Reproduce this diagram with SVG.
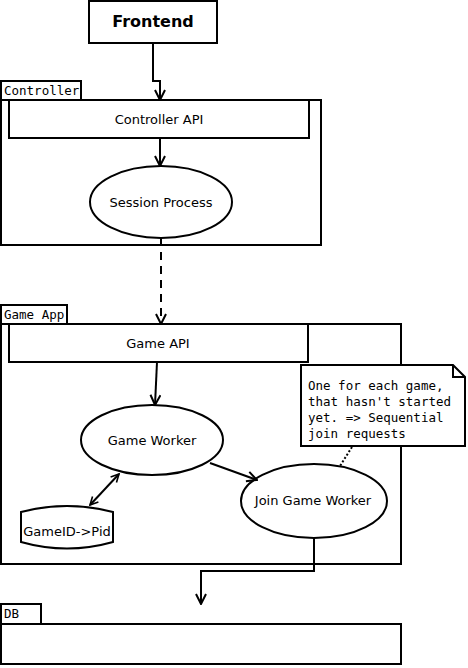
<svg xmlns="http://www.w3.org/2000/svg" width="468" height="668" viewBox="0 0 468 668">
<style>
.box{fill:#fff;stroke:#000;stroke-width:2}
.line{fill:none;stroke:#000;stroke-width:2}
.sans{font-family:"DejaVu Sans","Liberation Sans",sans-serif;font-size:13px;fill:#000}
.mono{font-family:"DejaVu Sans Mono","Liberation Mono",monospace;font-size:12.5px;fill:#000}
.bold{font-family:"DejaVu Sans","Liberation Sans",sans-serif;font-size:16px;font-weight:bold;fill:#000}
</style>
<defs>
<marker id="arr" viewBox="0 0 12 12" refX="11" refY="6" markerWidth="12" markerHeight="12" markerUnits="userSpaceOnUse" orient="auto-start-reverse">
<path d="M1,1 L11,6 L1,11" fill="none" stroke="#000" stroke-width="2"/>
</marker>
<marker id="arrs" viewBox="0 0 10 10" refX="9" refY="5" markerWidth="10" markerHeight="10" markerUnits="userSpaceOnUse" orient="auto-start-reverse">
<path d="M1,1 L9,5 L1,9" fill="none" stroke="#000" stroke-width="1.6"/>
</marker>
</defs>
<g id="frontend">
<rect class="box" x="89" y="1" width="128" height="42"/>
<text class="bold" x="153" y="27" text-anchor="middle">Frontend</text>
</g>
<g id="controller">
<rect class="box" x="1" y="81" width="80" height="19"/>
<text class="mono" x="4" y="95">Controller</text>
<rect class="box" x="1" y="100" width="320" height="145"/>
</g>
<g id="controller-api">
<rect class="box" x="9" y="100" width="300" height="38"/>
<text class="sans" x="159" y="124" text-anchor="middle">Controller API</text>
</g>
<g id="session-process">
<ellipse class="box" cx="161" cy="202" rx="71" ry="36"/>
<text class="sans" x="161" y="207" text-anchor="middle">Session Process</text>
</g>
<g id="game-app">
<rect class="box" x="1" y="305" width="66" height="19"/>
<text class="mono" x="4" y="319">Game App</text>
<rect class="box" x="1" y="324" width="400" height="240"/>
</g>
<g id="game-api">
<rect class="box" x="9" y="324" width="299" height="38"/>
<text class="sans" x="158" y="348" text-anchor="middle">Game API</text>
</g>
<g id="game-worker">
<ellipse class="box" cx="152" cy="440" rx="71" ry="35"/>
<text class="sans" x="152" y="445" text-anchor="middle">Game Worker</text>
</g>
<g id="join-game-worker">
<ellipse class="box" cx="314" cy="501" rx="73" ry="37"/>
<text class="sans" x="313" y="505" text-anchor="middle">Join Game Worker</text>
</g>
<g id="gameid-pid">
<path class="box" d="M21,512 Q67,500 113,512 L113,542 Q67,555 21,542 Z"/>
<text class="sans" x="67" y="536" text-anchor="middle">GameID-&gt;Pid</text>
</g>
<g id="note">
<path class="box" d="M301,365 L453,365 L465,377 L465,446 L301,446 Z"/>
<path class="line" d="M453,365 L453,377 L465,377" stroke-width="1"/>
<text class="mono" x="308" y="390">One for each game,</text>
<text class="mono" x="308" y="406">that hasn't started</text>
<text class="mono" x="308" y="422">yet. =&gt; Sequential</text>
<text class="mono" x="308" y="438">join requests</text>
</g>
<g id="db">
<rect class="box" x="1" y="604" width="40" height="20"/>
<text class="mono" x="4" y="618">DB</text>
<rect class="box" x="1" y="624" width="400" height="40"/>
</g>
<g id="connectors">
<path class="line" d="M153,43 L153,81 L160,81 L160,100" marker-end="url(#arr)"/>
<path class="line" d="M160,138 L160,166" marker-end="url(#arr)"/>
<path class="line" d="M161,238 L161,324" stroke-dasharray="8,6" marker-end="url(#arr)"/>
<path class="line" d="M157,362 L155,405" marker-end="url(#arr)"/>
<path class="line" d="M210,463 L257,480" marker-end="url(#arr)"/>
<path class="line" d="M90,505 L119,474" stroke-width="1.6" marker-start="url(#arrs)" marker-end="url(#arrs)"/>
<path class="line" d="M352,447 L340,466" stroke-dasharray="2,2"/>
<path class="line" d="M314,538 L314,571 L201,571 L201,604" marker-end="url(#arr)"/>
</g>
</svg>
